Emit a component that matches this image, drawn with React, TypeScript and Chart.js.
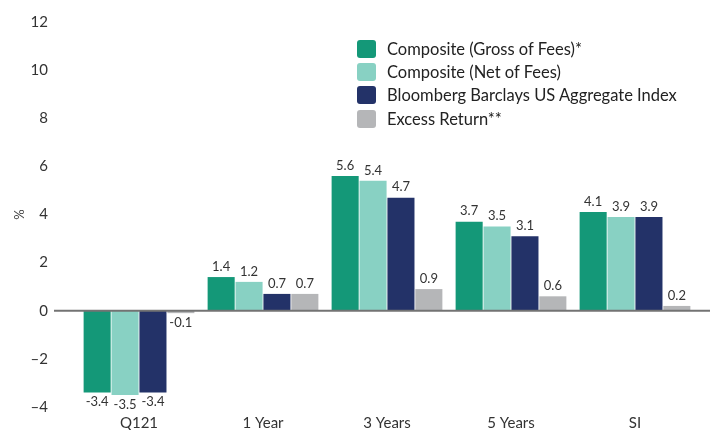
import React, { useEffect, useRef } from "react";
import { Chart, registerables } from "chart.js";

Chart.register(...registerables);

const categories = ["Q121", "1 Year", "3 Years", "5 Years", "SI"];
const grossOfFees = [-3.4, 1.4, 5.6, 3.7, 4.1];
const netOfFees = [-3.5, 1.2, 5.4, 3.5, 3.9];
const aggregateIndex = [-3.4, 0.7, 4.7, 3.1, 3.9];
const excessReturn = [-0.1, 0.7, 0.9, 0.6, 0.2];

const seriesNames = [
  "Composite (Gross of Fees)*",
  "Composite (Net of Fees)",
  "Bloomberg Barclays US Aggregate Index",
  "Excess Return**",
];
const seriesColors = ["#149878", "#88d1c3", "#233268", "#b5b6b8"];
const seriesValues = [grossOfFees, netOfFees, aggregateIndex, excessReturn];

const FONT = "Lato, 'Open Sans', sans-serif";

const valueLabels = {
  id: "valueLabels",
  afterDatasetsDraw(chart: any) {
    const ctx = chart.ctx;
    ctx.save();
    ctx.font = `13px ${FONT}`;
    ctx.fillStyle = "#333";
    ctx.textAlign = "center";
    chart.data.datasets.forEach((ds: any, di: number) => {
      const meta = chart.getDatasetMeta(di);
      meta.data.forEach((el: any, i: number) => {
        const v = ds.data[i];
        const txt = v.toFixed(1);
        if (v >= 0) {
          ctx.textBaseline = "bottom";
          ctx.fillText(txt, el.x, el.y - 4);
        } else {
          ctx.textBaseline = "top";
          ctx.fillText(txt, el.x, el.y + 3);
        }
      });
    });
    ctx.restore();
  },
};

const zeroLine = {
  id: "zeroLine",
  afterDatasetsDraw(chart: any) {
    const ctx = chart.ctx;
    const y = chart.scales.y.getPixelForValue(0);
    ctx.save();
    ctx.strokeStyle = "#737373";
    ctx.lineWidth = 2;
    ctx.beginPath();
    ctx.moveTo(chart.chartArea.left - 23, y);
    ctx.lineTo(chart.width, y);
    ctx.stroke();
    ctx.restore();
  },
};

export default function App() {
  const ref = useRef<HTMLCanvasElement>(null);
  useEffect(() => {
    if (!ref.current) return;
    const chart = new Chart(ref.current, {
      type: "bar",
      data: {
        labels: categories,
        datasets: seriesValues.map((vals, i) => ({
          label: seriesNames[i],
          data: vals,
          backgroundColor: seriesColors[i],
          borderWidth: 0,
          categoryPercentage: 0.9,
          barPercentage: 0.97,
        })),
      },
      options: {
        animation: false,
        responsive: false,
        maintainAspectRatio: false,
        layout: { padding: { left: 0, right: 13, top: 22, bottom: 0 } },
        plugins: {
          legend: { display: false },
          tooltip: { enabled: false },
        },
        scales: {
          x: {
            grid: { display: false, drawTicks: false },
            border: { display: false },
            ticks: {
              padding: 7,
              color: "#333",
              font: { family: FONT, size: 15 },
            },
            afterFit: (s: any) => {
              s.height = 23;
            },
          },
          y: {
            min: -4,
            max: 12,
            grid: { display: false, drawTicks: false },
            border: { display: false },
            ticks: {
              stepSize: 2,
              padding: 29,
              color: "#333",
              font: { family: FONT, size: 15 },
              callback: (v: any) => (v < 0 ? "\u2013" + Math.abs(v) : String(v)),
            },
            title: {
              display: true,
              text: "%",
              color: "#444",
              font: { family: FONT, size: 13 },
              padding: { top: 12, bottom: 0 },
            },
            afterFit: (s: any) => {
              s.width = 77;
              s.paddingTop = 0;
              s.paddingBottom = 0;
            },
          },
        },
      },
      plugins: [zeroLine, valueLabels],
    });
    return () => chart.destroy();
  }, []);

  return (
    <div style={{ position: "absolute", left: 0, top: 0, width: 710, height: 430 }}>
      <canvas ref={ref} width={710} height={430} style={{ display: "block" }} />
      <div
        style={{
          position: "absolute",
          left: 357,
          top: 37,
          fontFamily: FONT,
          fontSize: 16.5,
          color: "#222",
        }}
      >
        {seriesNames.map((n, i) => (
          <div key={n} style={{ display: "flex", alignItems: "center", height: 23.3 }}>
            <span
              style={{
                display: "inline-block",
                width: 19,
                height: 18,
                borderRadius: 3,
                background: seriesColors[i],
                marginRight: 11,
              }}
            />
            <span>{n}</span>
          </div>
        ))}
      </div>
    </div>
  );
}
